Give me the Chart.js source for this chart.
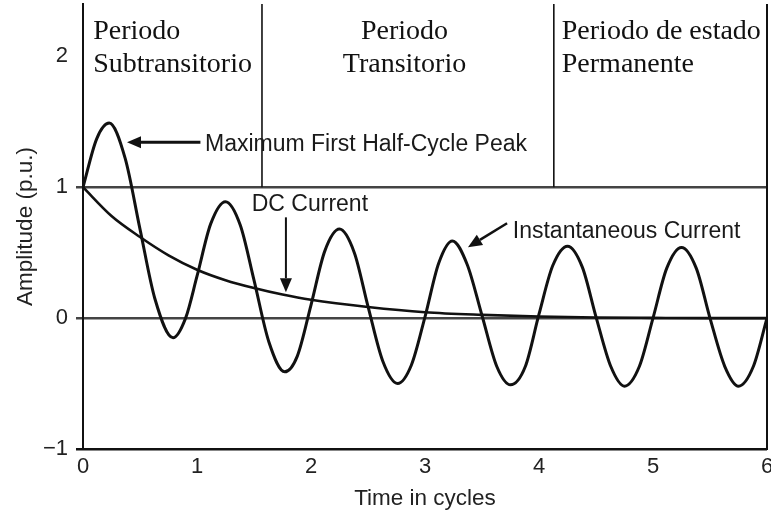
<!DOCTYPE html>
<html lang="en">
<head>
    <meta charset="UTF-8">
    <title>Short-Circuit Current</title>
    <script src="https://cdn.jsdelivr.net/npm/chart.js"></script>
    <style>
        body { margin: 0; background: #fff; }
    </style>
</head>
<body>
    <canvas id="faultChart" width="771" height="512"></canvas>

    <script>
        // instantaneous current (time in cycles, amplitude in p.u.)
        var instTime = [0, 0.12, 0.23, 0.37, 0.5, 0.63, 0.79, 0.9, 1.0, 1.12, 1.25, 1.38, 1.5, 1.63, 1.77, 1.88,
                        2.0, 2.12, 2.25, 2.38, 2.5, 2.63, 2.76, 2.88, 3.0, 3.12, 3.24, 3.37, 3.5, 3.63, 3.75, 3.88,
                        4.0, 4.12, 4.25, 4.38, 4.5, 4.63, 4.75, 4.88, 5.0, 5.12, 5.25, 5.38, 5.5, 5.63, 5.75, 5.88, 6.0];
        var instAmp  = [1.00, 1.37, 1.49, 1.22, 0.68, 0.15, -0.15, 0.0, 0.32, 0.72, 0.89, 0.71, 0.29, -0.18, -0.41, -0.29,
                        0.10, 0.51, 0.68, 0.50, 0.09, -0.33, -0.50, -0.36, 0.01, 0.42, 0.59, 0.41, 0.02, -0.37, -0.51, -0.37,
                        0.03, 0.40, 0.55, 0.39, 0.01, -0.37, -0.52, -0.37, 0.0, 0.38, 0.54, 0.38, 0.0, -0.37, -0.52, -0.37, 0.0];

        // decaying DC component
        var dcTime = [0, 0.25, 0.5, 0.75, 1.0, 1.25, 1.5, 1.75, 2.0, 2.5, 3.0, 3.5, 4.0, 4.5, 5.0, 5.5, 6.0];
        var dcAmp  = [1.00, 0.78, 0.62, 0.48, 0.37, 0.29, 0.23, 0.18, 0.14, 0.085, 0.045, 0.025, 0.012, 0.005, 0.002, 0, 0];

        var xTicks = [0, 1, 2, 3, 4, 5, 6];
        var yTicks = [-1, 0, 1, 2];
        var periodEdges = [1.57, 4.13];   // where the periods change, in cycles

        function toPoints(xs, ys) {
            return xs.map(function (x, i) { return { x: x, y: ys[i] }; });
        }

        var SANS = "'Liberation Sans', Arial, sans-serif";
        var SERIF = "'Liberation Serif', 'Times New Roman', serif";

        function arrow(ctx, x1, y1, x2, y2) {
            var a = Math.atan2(y2 - y1, x2 - x1), head = 14, half = 6;
            var bx = x2 - Math.cos(a) * head, by = y2 - Math.sin(a) * head;
            ctx.beginPath();
            ctx.moveTo(x1, y1);
            ctx.lineTo(bx, by);
            ctx.stroke();
            ctx.beginPath();
            ctx.moveTo(x2, y2);
            ctx.lineTo(bx - Math.sin(a) * half, by + Math.cos(a) * half);
            ctx.lineTo(bx + Math.sin(a) * half, by - Math.cos(a) * half);
            ctx.closePath();
            ctx.fill();
        }

        // period separators, labels and arrows (positions in data units)
        var notesPlugin = {
            id: 'notes',
            afterDraw: function (chart) {
                var ctx = chart.ctx, area = chart.chartArea;
                var xs = chart.scales.x, ys = chart.scales.y;
                var px = function (v) { return xs.getPixelForValue(v); };
                var py = function (v) { return ys.getPixelForValue(v); };
                ctx.save();

                // right frame line
                ctx.strokeStyle = '#111';
                ctx.lineWidth = 2;
                ctx.beginPath();
                ctx.moveTo(area.right, area.top);
                ctx.lineTo(area.right, area.bottom);
                ctx.stroke();

                ctx.lineWidth = 1.6;
                periodEdges.forEach(function (t) {
                    ctx.beginPath();
                    ctx.moveTo(px(t), area.top);
                    ctx.lineTo(px(t), py(1));
                    ctx.stroke();
                });

                ctx.fillStyle = '#111';
                ctx.font = '28px ' + SERIF;
                ctx.textBaseline = 'alphabetic';
                var periods = [
                    { lines: ['Periodo', 'Subtransitorio'], t: 0.09, align: 'left' },
                    { lines: ['Periodo', 'Transitorio'], t: 2.82, align: 'center' },
                    { lines: ['Periodo de estado', 'Permanente'], t: 4.2, align: 'left' }
                ];
                periods.forEach(function (p) {
                    ctx.textAlign = p.align;
                    p.lines.forEach(function (s, i) {
                        ctx.fillText(s, px(p.t), py(2.13) + i * 33);
                    });
                });

                ctx.font = '23px ' + SANS;
                ctx.textAlign = 'left';
                ctx.fillStyle = '#1a1a1a';
                ctx.fillText('Maximum First Half-Cycle Peak', px(1.07), py(1.275));
                ctx.fillText('DC Current', px(1.48), py(0.817));
                ctx.fillText('Instantaneous Current', px(3.77), py(0.61));

                ctx.strokeStyle = '#111';
                ctx.fillStyle = '#111';
                ctx.lineWidth = 3;
                arrow(ctx, px(1.03), py(1.344), px(0.386), py(1.344));
                ctx.lineWidth = 2;
                arrow(ctx, px(1.78), py(0.77), px(1.78), py(0.198));
                ctx.lineWidth = 2.5;
                arrow(ctx, px(3.72), py(0.725), px(3.377), py(0.542));

                ctx.restore();
            }
        };

        var ctx = document.getElementById('faultChart').getContext('2d');
        var faultChart = new Chart(ctx, {
            type: 'line',
            data: {
                datasets: [{
                    label: 'Instantaneous Current',
                    data: toPoints(instTime, instAmp),
                    borderColor: '#111',
                    borderWidth: 3,
                    pointRadius: 0,
                    cubicInterpolationMode: 'monotone',
                    fill: false
                }, {
                    label: 'DC Current',
                    data: toPoints(dcTime, dcAmp),
                    borderColor: '#111',
                    borderWidth: 2.6,
                    pointRadius: 0,
                    cubicInterpolationMode: 'monotone',
                    fill: false
                }]
            },
            options: {
                responsive: false,
                animation: false,
                events: [],
                layout: { padding: { top: 4, right: 4, left: 0, bottom: 0 } },
                plugins: {
                    legend: { display: false },
                    tooltip: { enabled: false }
                },
                scales: {
                    x: {
                        type: 'linear',
                        min: 0,
                        max: 6,
                        afterBuildTicks: function (s) { s.ticks = xTicks.map(function (v) { return { value: v }; }); },
                        afterFit: function (s) { s.height = 63; s.paddingLeft = 0; s.paddingRight = 0; },
                        grid: { display: false, drawTicks: false },
                        border: { color: '#111', width: 2 },
                        ticks: { color: '#222', padding: 5, font: { family: SANS, size: 22 } },
                        title: { display: true, text: 'Time in cycles', color: '#222',
                                 padding: { top: 0, bottom: 0 }, font: { family: SANS, size: 22.5 } }
                    },
                    y: {
                        min: -1,
                        max: 2.4,
                        afterBuildTicks: function (s) { s.ticks = yTicks.map(function (v) { return { value: v }; }); },
                        afterFit: function (s) { s.width = 83; s.paddingTop = 0; s.paddingBottom = 0; },
                        grid: {
                            tickLength: 7,
                            color: function (c) {
                                if (!c.tick) return 'transparent';
                                if (c.tick.value === 2) return 'transparent';
                                return c.tick.value === -1 ? '#111' : '#444';
                            },
                            lineWidth: 2.5
                        },
                        border: { color: '#111', width: 2 },
                        ticks: { color: '#222', padding: 8, font: { family: SANS, size: 22 },
                                 callback: function (v) { return v < 0 ? '\u2212' + Math.abs(v) : String(v); } },
                        title: { display: true, text: 'Amplitude (p.u.)', color: '#222',
                                 padding: { top: 12, bottom: 0 }, font: { family: SANS, size: 22.5 } }
                    }
                }
            },
            plugins: [notesPlugin]
        });
    </script>
</body>
</html>
